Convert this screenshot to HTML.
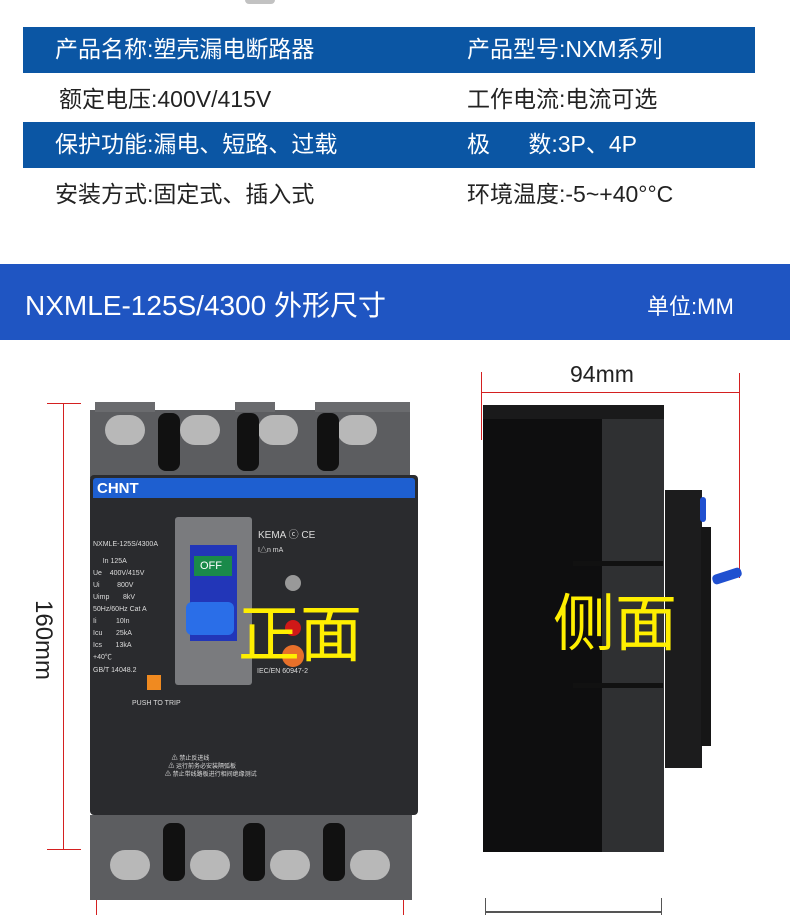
<!DOCTYPE html>
<html><head><meta charset="utf-8"><style>
*{margin:0;padding:0;box-sizing:border-box}
body{width:790px;height:915px;background:#fff;position:relative;overflow:hidden;font-family:"Liberation Sans","Noto Sans CJK SC",sans-serif}
.a{position:absolute}
.t{position:absolute;white-space:nowrap;font-size:23px;line-height:1}
.w{color:#fff}.d{color:#222}
.s{position:absolute;white-space:nowrap;font-size:7px;color:#ddd;line-height:1}
.red{position:absolute;background:#d42020}
.y{position:absolute;color:#ffef00;font-size:62px;line-height:1;font-weight:normal;white-space:nowrap;font-family:"Noto Sans CJK SC",sans-serif}
</style></head><body>
<div class="a" style="left:245px;top:0;width:30px;height:4px;background:#999;border-radius:0 0 8px 8px;opacity:.6"></div>
<!-- table -->
<div class="a" style="left:23px;top:27px;width:732px;height:46px;background:#0b56a4"></div>
<div class="a" style="left:23px;top:122px;width:732px;height:46px;background:#0b56a4"></div>
<div class="t w" style="left:55px;top:38px">产品名称:塑壳漏电断路器</div>
<div class="t w" style="left:467px;top:38px">产品型号:NXM系列</div>
<div class="t d" style="left:59px;top:88px">额定电压:400V/415V</div>
<div class="t d" style="left:467px;top:88px">工作电流:电流可选</div>
<div class="t w" style="left:55px;top:133px">保护功能:漏电、短路、过载</div>
<div class="t w" style="left:467px;top:133px">极&nbsp;&nbsp;&nbsp;&nbsp;&nbsp;&nbsp;数:3P、4P</div>
<div class="t d" style="left:55px;top:183px">安装方式:固定式、插入式</div>
<div class="t d" style="left:467px;top:183px">环境温度:-5~+40°°C</div>
<!-- header -->
<div class="a" style="left:0;top:264px;width:790px;height:76px;background:#1f55c2"></div>
<div class="t w" style="left:25px;top:292px;font-size:28px">NXMLE-125S/4300 外形尺寸</div>
<div class="t w" style="left:647px;top:296px;font-size:22px">单位:MM</div>
<!-- front dims -->
<div class="red" style="left:63px;top:403px;width:1px;height:447px"></div>
<div class="red" style="left:47px;top:403px;width:34px;height:1px"></div>
<div class="red" style="left:47px;top:849px;width:34px;height:1px"></div>
<div class="red" style="left:96px;top:864px;width:1px;height:51px"></div>
<div class="red" style="left:403px;top:864px;width:1px;height:51px"></div>
<div class="t d" style="left:3px;top:628px;font-size:24px;transform:rotate(90deg);transform-origin:center;width:80px;text-align:center">160mm</div>
<!-- front breaker -->
<div class="a" style="left:90px;top:410px;width:320px;height:68px;background:#5c5d60"></div>
<div class="a" style="left:95px;top:402px;width:60px;height:10px;background:#6a6b6e"></div>
<div class="a" style="left:235px;top:402px;width:40px;height:10px;background:#6a6b6e"></div>
<div class="a" style="left:315px;top:402px;width:95px;height:10px;background:#6a6b6e"></div>
<div class="a" style="left:105px;top:415px;width:40px;height:30px;border-radius:15px;background:#b8b8b8"></div>
<div class="a" style="left:180px;top:415px;width:40px;height:30px;border-radius:15px;background:#b8b8b8"></div>
<div class="a" style="left:258px;top:415px;width:40px;height:30px;border-radius:15px;background:#b8b8b8"></div>
<div class="a" style="left:337px;top:415px;width:40px;height:30px;border-radius:15px;background:#b8b8b8"></div>
<div class="a" style="left:158px;top:413px;width:22px;height:58px;border-radius:8px;background:#111"></div>
<div class="a" style="left:237px;top:413px;width:22px;height:58px;border-radius:8px;background:#111"></div>
<div class="a" style="left:317px;top:413px;width:22px;height:58px;border-radius:8px;background:#111"></div>
<div class="a" style="left:90px;top:475px;width:328px;height:340px;background:#2a2b2e;border-radius:4px"></div>
<div class="a" style="left:93px;top:478px;width:322px;height:20px;background:#1e5fd0;border-radius:3px 3px 0 0"></div>
<div class="t w" style="left:97px;top:481px;font-size:15px;font-weight:bold">CHNT</div>
<div class="a" style="left:175px;top:517px;width:77px;height:168px;background:#7a7b7e;border-radius:3px"></div>
<div class="a" style="left:190px;top:545px;width:47px;height:96px;background:#2236b8"></div>
<div class="a" style="left:194px;top:556px;width:38px;height:20px;background:#1a8a4a"></div>
<div class="t w" style="left:200px;top:561px;font-size:11px">OFF</div>
<div class="a" style="left:186px;top:602px;width:48px;height:33px;background:#2a6ee8;border-radius:6px"></div>
<div class="s" style="left:93px;top:541px">NXMLE-125S/4300A</div>
<div class="s" style="left:93px;top:556px;line-height:12px">&nbsp;&nbsp;&nbsp;&nbsp;&nbsp;In 125A<br>Ue&nbsp;&nbsp;&nbsp;&nbsp;400V/415V<br>Ui&nbsp;&nbsp;&nbsp;&nbsp;&nbsp;&nbsp;&nbsp;&nbsp;&nbsp;800V<br>Uimp&nbsp;&nbsp;&nbsp;&nbsp;&nbsp;&nbsp;&nbsp;8kV<br>50Hz/60Hz Cat A<br>Ii&nbsp;&nbsp;&nbsp;&nbsp;&nbsp;&nbsp;&nbsp;&nbsp;&nbsp;&nbsp;10In<br>Icu&nbsp;&nbsp;&nbsp;&nbsp;&nbsp;&nbsp;&nbsp;25kA<br>Ics&nbsp;&nbsp;&nbsp;&nbsp;&nbsp;&nbsp;&nbsp;13kA<br>+40℃</div>
<div class="s" style="left:93px;top:667px">GB/T 14048.2</div>
<div class="a" style="left:147px;top:675px;width:14px;height:15px;background:#f08a20"></div>
<div class="s" style="left:132px;top:700px">PUSH TO TRIP</div>
<div class="s" style="left:258px;top:531px;font-size:10px">KEMA ⓒ CE</div>
<div class="s" style="left:258px;top:547px">I△n mA</div>
<div class="a" style="left:285px;top:575px;width:16px;height:16px;border-radius:50%;background:#999"></div>
<div class="a" style="left:285px;top:620px;width:16px;height:16px;border-radius:50%;background:#d01818"></div>
<div class="a" style="left:282px;top:645px;width:22px;height:22px;border-radius:50%;background:#e8702a"></div>
<div class="s" style="left:257px;top:668px">IEC/EN 60947-2</div>
<div class="s" style="left:165px;top:755px;font-size:6px;line-height:8px">&nbsp;&nbsp;&nbsp;&nbsp;⚠ 禁止反进线<br>&nbsp;&nbsp;⚠ 运行前务必安装隔弧板<br>⚠ 禁止带线路板进行相间绝缘测试</div>
<div class="a" style="left:90px;top:815px;width:322px;height:85px;background:#5c5d60"></div>
<div class="a" style="left:110px;top:850px;width:40px;height:30px;border-radius:15px;background:#b8b8b8"></div>
<div class="a" style="left:190px;top:850px;width:40px;height:30px;border-radius:15px;background:#b8b8b8"></div>
<div class="a" style="left:270px;top:850px;width:40px;height:30px;border-radius:15px;background:#b8b8b8"></div>
<div class="a" style="left:350px;top:850px;width:40px;height:30px;border-radius:15px;background:#b8b8b8"></div>
<div class="a" style="left:163px;top:823px;width:22px;height:58px;border-radius:8px;background:#111"></div>
<div class="a" style="left:243px;top:823px;width:22px;height:58px;border-radius:8px;background:#111"></div>
<div class="a" style="left:323px;top:823px;width:22px;height:58px;border-radius:8px;background:#111"></div>
<div class="y" style="left:238px;top:598px">正面</div>
<!-- side dims -->
<div class="red" style="left:481px;top:392px;width:259px;height:1px"></div>
<div class="red" style="left:481px;top:372px;width:1px;height:68px"></div>
<div class="red" style="left:739px;top:373px;width:1px;height:205px"></div>
<div class="t d" style="left:570px;top:363px;font-size:23px">94mm</div>
<div class="a" style="left:485px;top:911px;width:177px;height:2px;background:#555"></div>
<div class="a" style="left:485px;top:898px;width:1px;height:17px;background:#555"></div>
<div class="a" style="left:661px;top:898px;width:1px;height:17px;background:#555"></div>
<!-- side body -->
<div class="a" style="left:483px;top:405px;width:120px;height:447px;background:#0e0e0f"></div>
<div class="a" style="left:483px;top:405px;width:181px;height:14px;background:#1a1a1b"></div>
<div class="a" style="left:602px;top:419px;width:62px;height:433px;background:#2f3032"></div>
<div class="a" style="left:665px;top:490px;width:37px;height:278px;background:#1c1c1d"></div>
<div class="a" style="left:701px;top:527px;width:10px;height:219px;background:#161616"></div>
<div class="a" style="left:700px;top:497px;width:6px;height:25px;background:#2050d0;border-radius:3px"></div>
<div class="a" style="left:712px;top:571px;width:30px;height:10px;background:#2050d0;transform:rotate(-18deg);border-radius:4px"></div>
<div class="a" style="left:573px;top:561px;width:90px;height:5px;background:#111"></div>
<div class="a" style="left:573px;top:683px;width:90px;height:5px;background:#111"></div>
<div class="y" style="left:553px;top:587px">侧面</div>
</body></html>
